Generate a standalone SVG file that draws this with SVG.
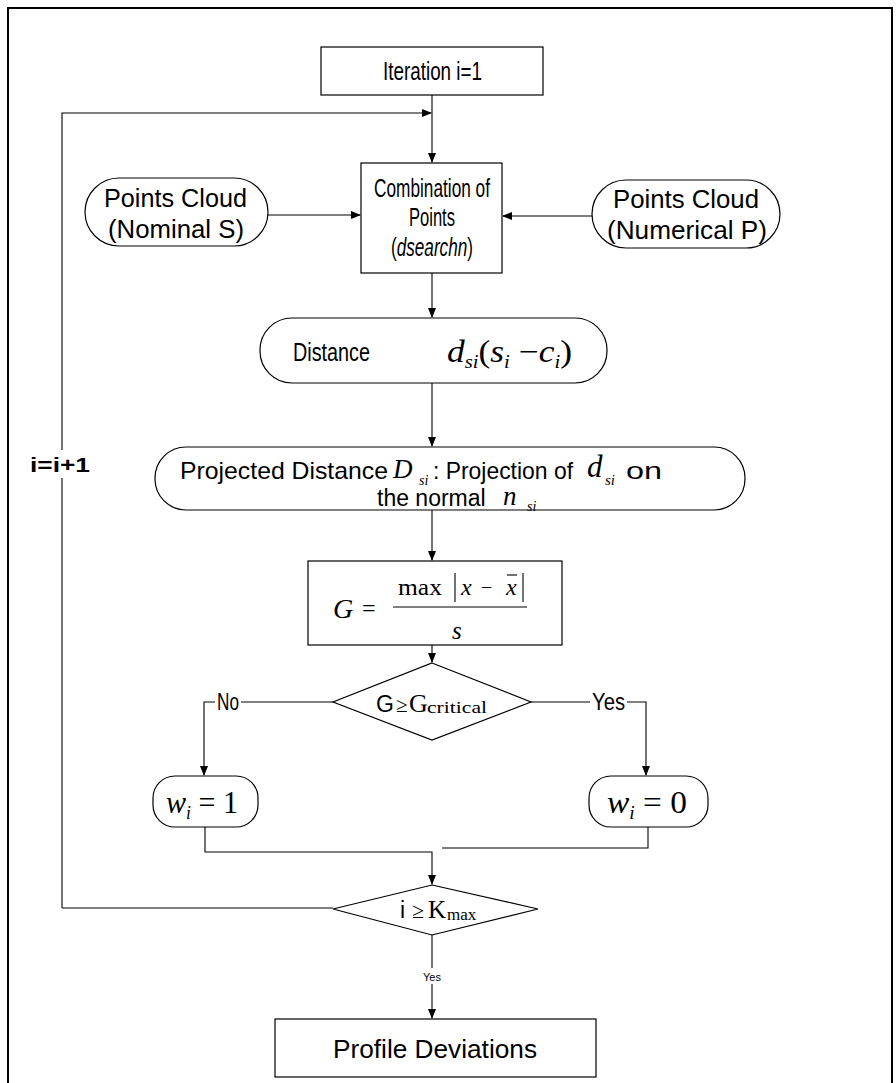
<svg xmlns="http://www.w3.org/2000/svg" width="896" height="1083" viewBox="0 0 896 1083">
<style>
.box{fill:#fff;stroke:#000;stroke-width:1.2}
.ln{fill:none;stroke:#000;stroke-width:1.1}
.t{font-family:"Liberation Sans",Arial,sans-serif;fill:#000}
.m{font-family:"Liberation Serif","Times New Roman",serif;fill:#000}
.i{font-style:italic}
</style>
<defs>
<marker id="ah" markerWidth="10" markerHeight="8" refX="9" refY="4" orient="auto" markerUnits="userSpaceOnUse">
<path d="M0,0 L10,4 L0,8 Z" fill="#000"/>
</marker>
</defs>
<rect x="8" y="8" width="884" height="1100" fill="none" stroke="#000" stroke-width="2"/>

<g id="connectors">
<line class="ln" x1="432" y1="95" x2="432" y2="162" marker-end="url(#ah)"/>
<polyline class="ln" points="62,470 62,113 431,113" marker-end="url(#ah)"/>
<line class="ln" x1="62" y1="455" x2="62" y2="908"/>
<line class="ln" x1="62" y1="908" x2="333" y2="908"/>
<line class="ln" x1="268" y1="215" x2="360" y2="215" stroke-width="1.6" marker-end="url(#ah)"/>
<line class="ln" x1="592" y1="216" x2="503" y2="216" stroke-width="1.6" marker-end="url(#ah)"/>
<line class="ln" x1="432" y1="273" x2="432" y2="317" marker-end="url(#ah)"/>
<line class="ln" x1="432" y1="383" x2="432" y2="446" marker-end="url(#ah)"/>
<line class="ln" x1="432" y1="510" x2="432" y2="560" marker-end="url(#ah)"/>
<line class="ln" x1="432" y1="645" x2="432" y2="662" marker-end="url(#ah)"/>
<polyline class="ln" points="333,702 204,702 204,775" marker-end="url(#ah)"/>
<polyline class="ln" points="531,702 646,702 646,775" marker-end="url(#ah)"/>
<polyline class="ln" points="205,827 205,852 432,852 432,884" marker-end="url(#ah)"/>
<polyline class="ln" points="648,827 648,848 442,848"/>
<line class="ln" x1="432" y1="935" x2="432" y2="1018" marker-end="url(#ah)"/>
<rect x="26" y="450" width="72" height="28" fill="#fff"/>
<text x="30" y="472" class="t" style="font-size:20px;font-weight:bold" textLength="60" lengthAdjust="spacingAndGlyphs">i=i+1</text>
<rect x="215" y="690" width="26" height="22" fill="#fff"/>
<text x="217" y="710" class="t" style="font-size:23px" textLength="22" lengthAdjust="spacingAndGlyphs">No</text>
<rect x="590" y="690" width="37" height="22" fill="#fff"/>
<text x="592" y="710" class="t" style="font-size:23px" textLength="33" lengthAdjust="spacingAndGlyphs">Yes</text>
<rect x="420" y="968" width="24" height="16" fill="#fff"/>
<text x="432" y="981" text-anchor="middle" class="t" style="font-size:11px">Yes</text>
</g>

<g id="n-iter">
<rect class="box" x="321" y="47" width="222" height="48"/>
<text x="383" y="80" class="t" style="font-size:25px" textLength="99" lengthAdjust="spacingAndGlyphs">Iteration i=1</text>
</g>

<g id="n-nominal">
<rect class="box" x="85" y="178" width="183" height="68" rx="34"/>
<text x="104" y="207" class="t" style="font-size:26px" textLength="143" lengthAdjust="spacingAndGlyphs">Points Cloud</text>
<text x="108" y="238" class="t" style="font-size:26px" textLength="136" lengthAdjust="spacingAndGlyphs">(Nominal S)</text>
</g>

<g id="n-numerical">
<rect class="box" x="592" y="180" width="188" height="68" rx="34"/>
<text x="613" y="208" class="t" style="font-size:26px" textLength="146" lengthAdjust="spacingAndGlyphs">Points Cloud</text>
<text x="607" y="239" class="t" style="font-size:26px" textLength="160" lengthAdjust="spacingAndGlyphs">(Numerical P)</text>
</g>

<g id="n-combo">
<rect class="box" x="361" y="163" width="141" height="110"/>
<text x="374" y="197" class="t" style="font-size:26px" textLength="116" lengthAdjust="spacingAndGlyphs">Combination of</text>
<text x="409" y="226" class="t" style="font-size:26px" textLength="46" lengthAdjust="spacingAndGlyphs">Points</text>
<text x="391" y="256" class="t" style="font-size:26px" textLength="82" lengthAdjust="spacingAndGlyphs">(<tspan class="i">dsearchn</tspan>)</text>
</g>

<g id="n-distance">
<rect class="box" x="260" y="318" width="347" height="65" rx="32"/>
<text x="293" y="361" class="t" style="font-size:25px" textLength="77" lengthAdjust="spacingAndGlyphs">Distance</text>
<text x="447" y="362" class="m" style="font-size:31px" textLength="125" lengthAdjust="spacingAndGlyphs"><tspan class="i">d</tspan><tspan class="i" style="font-size:18px" dy="6">si</tspan><tspan dy="-6">(</tspan><tspan class="i">s</tspan><tspan class="i" style="font-size:18px" dy="6">i</tspan><tspan dy="-6"> −</tspan><tspan class="i">c</tspan><tspan class="i" style="font-size:18px" dy="6">i</tspan><tspan dy="-6">)</tspan></text>
</g>

<g id="n-projected">
<rect class="box" x="155" y="447" width="590" height="63" rx="31"/>
<text x="180" y="479" class="t" style="font-size:24px" textLength="208" lengthAdjust="spacingAndGlyphs">Projected Distance</text>
<text x="393" y="478" class="m i" style="font-size:27px">D</text>
<text x="419" y="485" class="m i" style="font-size:14px">si</text>
<text x="433" y="479" class="t" style="font-size:24px" textLength="140" lengthAdjust="spacingAndGlyphs">: Projection of</text>
<text x="587" y="477" class="m i" style="font-size:31px">d</text>
<text x="605" y="485" class="m i" style="font-size:15px">si</text>
<text x="626" y="479" class="t" style="font-size:24px" textLength="36" lengthAdjust="spacingAndGlyphs">on</text>
<text x="377" y="506" class="t" style="font-size:23px">the normal</text>
<text x="503" y="505" class="m i" style="font-size:27px">n</text>
<text x="527" y="511" class="m i" style="font-size:14px">si</text>
</g>

<g id="n-grubbs">
<rect class="box" x="308" y="561" width="254" height="84"/>
<text x="333" y="618" class="m i" style="font-size:28px">G</text>
<text x="362" y="616" class="m" style="font-size:24px">=</text>
<text x="398" y="595" class="m" style="font-size:23px" textLength="44" lengthAdjust="spacingAndGlyphs">max</text>
<line class="ln" x1="455" y1="573" x2="455" y2="602"/>
<text x="461" y="595" class="m i" style="font-size:24px">x</text>
<text x="481" y="594" class="m" style="font-size:20px">−</text>
<text x="506" y="595" class="m i" style="font-size:24px">x</text>
<line class="ln" x1="507" y1="575" x2="517" y2="575"/>
<line class="ln" x1="523" y1="573" x2="523" y2="602"/>
<line class="ln" x1="393" y1="607" x2="527" y2="607"/>
<text x="452" y="639" class="m i" style="font-size:25px">s</text>
</g>

<g id="n-dec1">
<polygon class="box" points="432,663 531,702 432,740 333,702"/>
<text x="376" y="712" class="t" style="font-size:23px">G</text>
<text x="396" y="712" class="m" style="font-size:21px">≥</text>
<text x="409" y="712" class="m" style="font-size:26px">G</text>
<text x="427" y="713" class="m" style="font-size:16px" textLength="60" lengthAdjust="spacingAndGlyphs">critical</text>
</g>

<g id="n-w1">
<rect class="box" x="153" y="776" width="105" height="51" rx="22"/>
<text x="166" y="813" class="m" style="font-size:31px" textLength="72" lengthAdjust="spacingAndGlyphs"><tspan class="i">w</tspan><tspan class="i" style="font-size:18px" dy="6">i</tspan><tspan dy="-6"> = 1</tspan></text>
</g>

<g id="n-w0">
<rect class="box" x="589" y="776" width="119" height="51" rx="22"/>
<text x="607" y="813" class="m" style="font-size:31px" textLength="80" lengthAdjust="spacingAndGlyphs"><tspan class="i">w</tspan><tspan class="i" style="font-size:18px" dy="6">i</tspan><tspan dy="-6"> = 0</tspan></text>
</g>

<g id="n-dec2">
<polygon class="box" points="432,885 538,909 432,935 333,909"/>
<text x="400" y="918" class="t" style="font-size:23px">i</text>
<text x="412" y="918" class="m" style="font-size:22px">≥</text>
<text x="428" y="918" class="m" style="font-size:25px">K</text>
<text x="447" y="920" class="m" style="font-size:17px">max</text>
</g>

<g id="n-profile">
<rect class="box" x="275" y="1019" width="321" height="58"/>
<text x="333" y="1058" class="t" style="font-size:25px" textLength="204" lengthAdjust="spacingAndGlyphs">Profile Deviations</text>
</g>
</svg>
